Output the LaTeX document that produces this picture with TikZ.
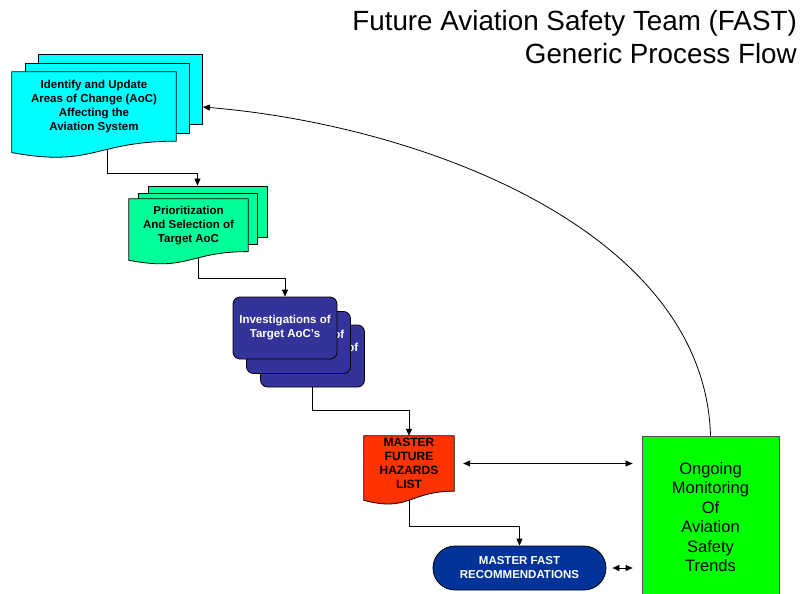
\documentclass[tikz,border=0pt]{standalone}
\usepackage{fontspec}
\setmainfont{Liberation Sans}
\usetikzlibrary{arrows.meta,calc}

\definecolor{aoccyan}{RGB}{0,255,255}
\definecolor{prigreen}{RGB}{0,255,153}
\definecolor{invblue}{RGB}{51,51,153}
\definecolor{hazred}{RGB}{255,51,0}
\definecolor{recblue}{RGB}{0,51,153}
\definecolor{mongreen}{RGB}{0,255,0}

\pgfdeclarelayer{lines}
\pgfdeclarelayer{background}
\pgfsetlayers{lines,background,main}

% document outline with wavy bottom round a text node
\newcommand\docshape[2]{%
  \filldraw[fill=#2, boxline] (#1.north west) -- (#1.north east) -- (#1.south east)
    .. controls (#1.south) and ($(#1.north)!1.381!(#1.south)$)
    .. ($(#1.north west)!1.1646!(#1.south west)$) -- cycle;}

\tikzset{
  boxline/.style={draw=black, line width=0.8pt},
  boxtext/.style={font=\bfseries\fontsize{11.5}{14}\selectfont, align=center, inner sep=0pt},
  copybox/.style={rectangle, boxline, inner sep=0pt},
  invbox/.style={rectangle, rounded corners=7pt, boxline, fill=invblue, text=white,
    boxtext, minimum width=104pt, minimum height=62pt},
  arr/.style={line width=0.8pt, -{Triangle[length=7pt,width=6pt]}},
  dbl/.style={line width=0.8pt, {Triangle[length=7pt,width=6pt]}-{Triangle[length=7pt,width=6pt]}}
}

\begin{document}
\begin{tikzpicture}[x=1pt,y=-1pt]
  \useasboundingbox (0,0) rectangle (801,594);

  % Title
  \node[anchor=north east, align=right, inner sep=0pt,
    font=\fontsize{27.8}{33}\selectfont] (title) at (797,10.5)
    {Future Aviation Safety Team (FAST)\\Generic Process Flow};

  % Areas of change
  \node[boxtext, minimum width=164pt, minimum height=69pt] (id) at (94,106.5)
    {Identify and Update\\Areas of Change (AoC)\\Affecting the\\Aviation System};
  \begin{pgfonlayer}{background}
    \node[copybox, fill=aoccyan, minimum width=164pt, minimum height=70pt] (id3) at (120.5,89.5) {};
    \node[copybox, fill=aoccyan, minimum width=164pt, minimum height=70pt] (id2) at (107,98) {};
    \docshape{id}{aoccyan}
  \end{pgfonlayer}

  % Prioritization
  \node[boxtext, minimum width=119pt, minimum height=52.4pt] (prio) at (188.5,225.2)
    {Prioritization\\And Selection of\\Target AoC};
  \begin{pgfonlayer}{background}
    \node[copybox, fill=prigreen, minimum width=119pt, minimum height=51pt] (prio3) at (207.5,211.5) {};
    \node[copybox, fill=prigreen, minimum width=119pt, minimum height=51pt] (prio2) at (197.5,218.5) {};
    \docshape{prio}{prigreen}
  \end{pgfonlayer}

  % Investigations
  \node[invbox] (inv3) at (312.5,356) {Investigations of\\Target AoC's};
  \node[invbox] (inv2) at (298.5,342.5) {Investigations of\\Target AoC's};
  \node[invbox] (inv1) at (285,328) {Investigations of\\Target AoC's};

  % Hazards list
  \node[boxtext, font=\bfseries\fontsize{12}{14}\selectfont, minimum width=90pt, minimum height=55pt]
    (haz) at (409,463.5) {MASTER\\FUTURE\\HAZARDS\\LIST};
  \begin{pgfonlayer}{background}
    \docshape{haz}{hazred}
  \end{pgfonlayer}

  % Recommendations
  \node[rectangle, rounded corners=22pt, boxline, fill=recblue, text=white, boxtext,
    minimum width=173pt, minimum height=44pt] (rec) at (519.5,568)
    {MASTER FAST\\RECOMMENDATIONS};

  % Monitoring
  \node[rectangle, draw=black!70, line width=0.8pt, fill=mongreen, align=center,
    font=\fontsize{16.5}{19.5}\selectfont, minimum width=137pt, minimum height=162pt] (mon) at (710.5,517)
    {Ongoing\\Monitoring\\Of\\Aviation\\Safety\\Trends};

  % Connectors
  \begin{pgfonlayer}{lines}
    \draw[arr] ([xshift=13pt]id.south) -- ++(0,32) -| (prio2.north |- prio3.north);
    \draw[arr] ([xshift=9.5pt]prio.south) -- ++(0,26.6) -| (inv1.north);
    \draw[arr] (inv3.south) -- ++(0,23) -| (haz.north);
    \draw[arr] (haz.south) -- ++(0,35) -| (rec.north);
  \end{pgfonlayer}
  \draw[dbl, shorten <=9pt, shorten >=9pt] (haz.east) -- (haz.east -| mon.west);
  \draw[dbl, shorten <=6pt, shorten >=9pt] (rec.east) -- (rec.east -| mon.west);
  \draw[arr] (mon.north) .. controls +(-6,-206) and +(217,18) .. ([yshift=-17.5pt]id3.east);
\end{tikzpicture}
\end{document}
